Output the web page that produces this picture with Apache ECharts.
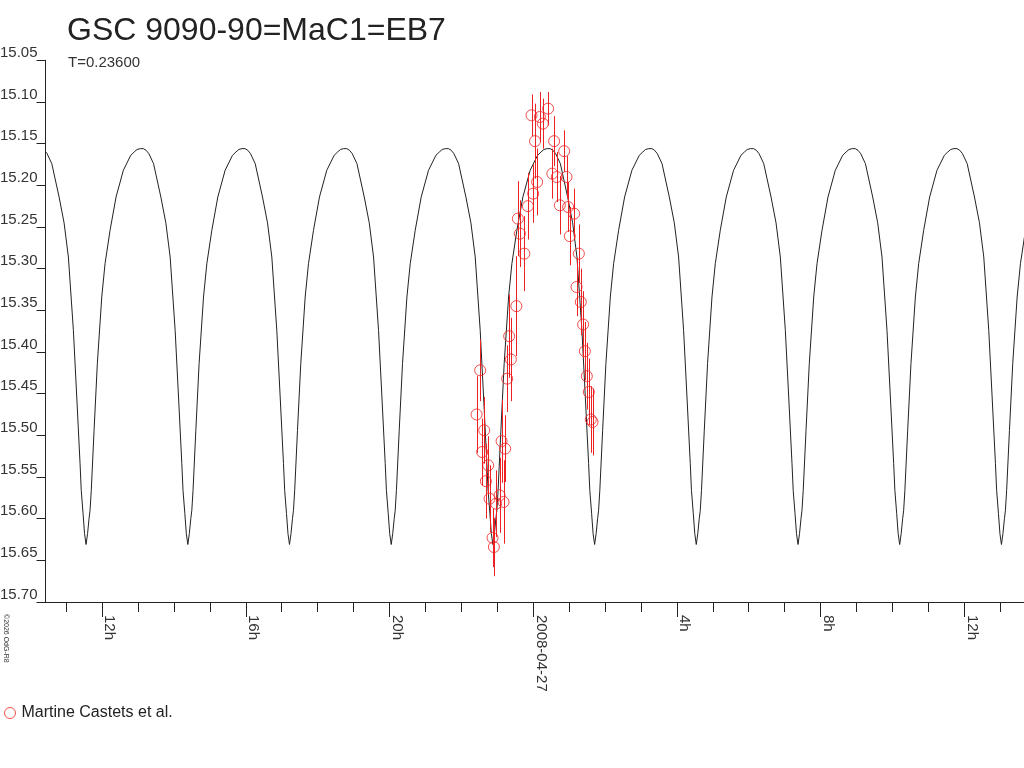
<!DOCTYPE html>
<html>
<head>
<meta charset="utf-8">
<title>GSC 9090-90=MaC1=EB7</title>
<script src="https://cdn.jsdelivr.net/npm/echarts@6/dist/echarts.min.js"></script>
<style>
    html, body { margin: 0; padding: 0; background: #fff; }
    #chart { width: 1024px; height: 768px; }
</style>
</head>
<body>
<div id="chart"></div>
<script>
// ===== data (time = hours from 2008-04-27 00:00) =====
var seriesName = 'Martine Castets et al.';

var obsTime = [-1.575, -1.475, -1.419, -1.363, -1.316, -1.252, -1.213, -1.130, -1.093, -1.030,
               -0.935, -0.879, -0.824, -0.779, -0.723, -0.668, -0.620, -0.467, -0.426, -0.370,
               -0.245, -0.147, -0.045, 0.000, 0.053, 0.111, 0.186, 0.270, 0.417, 0.534,
               0.584, 0.659, 0.743, 0.863, 0.929, 0.974, 1.021, 1.141, 1.208, 1.272,
               1.327, 1.391, 1.439, 1.494, 1.550, 1.605, 1.653];
var obsMag  = [15.475, 15.422, 15.520, 15.494, 15.555, 15.536, 15.576, 15.623, 15.634, 15.582,
               15.572, 15.507, 15.580, 15.516, 15.432, 15.381, 15.409, 15.345, 15.240, 15.258,
               15.282, 15.225, 15.116, 15.210, 15.147, 15.196, 15.118, 15.126, 15.108, 15.186,
               15.147, 15.190, 15.224, 15.159, 15.190, 15.226, 15.261, 15.234, 15.322, 15.282,
               15.340, 15.367, 15.399, 15.429, 15.448, 15.481, 15.484];
var obsErr  = [0.046, 0.037, 0.040, 0.040, 0.045, 0.035, 0.040, 0.035, 0.035, 0.040,
               0.045, 0.050, 0.050, 0.040, 0.040, 0.050, 0.050, 0.060, 0.045, 0.040,
               0.045, 0.040, 0.025, 0.035, 0.045, 0.040, 0.030, 0.030, 0.020, 0.030,
               0.030, 0.030, 0.035, 0.025, 0.025, 0.030, 0.035, 0.030, 0.035, 0.035,
               0.040, 0.040, 0.035, 0.040, 0.040, 0.040, 0.040];

// model curve: times of minima, plus the arch shape
var minTimes   = [-12.446, -9.613, -6.783, -3.951, -1.121, 1.711, 4.541, 7.373, 10.203, 13.036];
var fallOffset = [0, 0.042, 0.083, 0.134, 0.167, 0.259, 0.353, 0.492, 0.612, 0.751, 0.954, 1.085, 1.160, 1.233];
var fallMag    = [15.631, 15.618, 15.594, 15.566, 15.534, 15.454, 15.374, 15.286, 15.245, 15.214, 15.174, 15.162, 15.158, 15.156];
var riseOffset = [0, 0.042, 0.083, 0.111, 0.145, 0.223, 0.314, 0.437, 0.529, 0.668, 0.835, 1.038, 1.244, 1.340, 1.419, 1.510, 1.594];
var riseMag    = [15.631, 15.618, 15.600, 15.590, 15.566, 15.494, 15.414, 15.334, 15.294, 15.254, 15.214, 15.182, 15.164, 15.160, 15.157, 15.156, 15.156];

// axis ticks
var majorTicks  = [-12, -8, -4, 0, 4, 8, 12];
var majorLabels = ['12h', '16h', '20h', '2008-04-27', '4h', '8h', '12h'];
var minorTicks  = [-13, -12, -11, -10, -9, -8, -7, -6, -5, -4, -3, -2, -1, 0,
                   1, 2, 3, 4, 5, 6, 7, 8, 9, 10, 11, 12, 13];

var RED = '#ee2222';
var INK = '#222';
var FONT = '"Liberation Sans", Arial, sans-serif';

// build series data
var points = [];
for (var i = 0; i < obsTime.length; i++) {
    points.push([obsTime[i], obsMag[i], obsErr[i]]);
}

var modelCurve = [];
for (var k = 0; k < minTimes.length; k++) {
    var t0 = minTimes[k];
    for (var j = fallOffset.length - 1; j > 0; j--) {
        modelCurve.push([t0 - fallOffset[j], fallMag[j]]);
    }
    modelCurve.push([t0, fallMag[0]]);
    for (var j = 1; j < riseOffset.length; j++) {
        modelCurve.push([t0 + riseOffset[j], riseMag[j]]);
    }
}

var myChart = echarts.init(document.getElementById('chart'), null, { renderer: 'canvas' });

function xAxisDef(ticks, tickLen, withLabels) {
    return {
        type: 'value',
        min: -13.575,
        max: 13.65,
        position: 'bottom',
        splitLine: { show: false },
        axisLine: { show: true, onZero: false, lineStyle: { color: INK, width: 1 } },
        axisTick: { show: true, length: tickLen, customValues: ticks, lineStyle: { color: INK } },
        axisLabel: {
            show: withLabels,
            customValues: majorTicks,
            rotate: -90,
            margin: 13,
            verticalAlign: 'bottom',
            fontFamily: FONT,
            fontSize: 15,
            color: '#333',
            formatter: function (v) {
                var idx = majorTicks.indexOf(Math.round(v));
                return idx >= 0 ? majorLabels[idx] : '';
            }
        }
    };
}

var option = {
    animation: false,
    backgroundColor: '#fff',
    title: [
        {
            text: 'GSC 9090-90=MaC1=EB7',
            left: 62, top: 10,
            textStyle: { fontFamily: FONT, fontSize: 32, fontWeight: 'normal', color: INK }
        },
        {
            text: 'T=0.23600',
            left: 63, top: 50,
            textStyle: { fontFamily: FONT, fontSize: 15, fontWeight: 'normal', color: '#333' }
        }
    ],
    legend: {
        data: [seriesName],
        left: 4, top: 705,
        padding: 0,
        icon: 'circle',
        itemWidth: 11, itemHeight: 11, itemGap: 5,
        itemStyle: { color: 'transparent', borderColor: RED, borderWidth: 1 },
        textStyle: { fontFamily: FONT, fontSize: 16, color: INK, padding: [0, 0, 0, 1] }
    },
    grid: { left: 45.5, right: 0.5, top: 60.3, bottom: 166, outerBoundsMode: 'none' },
    xAxis: [
        xAxisDef(minorTicks, 10, false),
        xAxisDef(majorTicks, 15, true)
    ],
    yAxis: {
        type: 'value',
        inverse: true,
        min: 15.05,
        max: 15.70,
        interval: 0.05,
        splitLine: { show: false },
        axisLine: { show: true, onZero: false, lineStyle: { color: INK, width: 1 } },
        axisTick: { show: true, length: 9, lineStyle: { color: INK } },
        axisLabel: {
            margin: 8,
            verticalAlign: 'bottom',
            fontFamily: FONT,
            fontSize: 15,
            color: '#333',
            formatter: function (v) { return v.toFixed(2); }
        }
    },
    series: [
        {
            // model light curve
            type: 'line',
            data: modelCurve,
            showSymbol: false,
            silent: true,
            lineStyle: { color: INK, width: 1 },
            z: 2
        },
        {
            // error bars
            type: 'custom',
            data: points,
            encode: { x: 0, y: 1 },
            silent: true,
            z: 3,
            renderItem: function (params, api) {
                var x = api.value(0), y = api.value(1), e = api.value(2);
                var p1 = api.coord([x, y - e]);
                var p2 = api.coord([x, y + e]);
                var px = Math.round(p1[0]) + 0.5;
                return {
                    type: 'line',
                    shape: { x1: px, y1: p1[1], x2: px, y2: p2[1] },
                    style: { stroke: RED, lineWidth: 1 }
                };
            }
        },
        {
            name: seriesName,
            type: 'scatter',
            data: points,
            symbol: 'circle',
            symbolSize: 11,
            itemStyle: { color: 'transparent', borderColor: RED, borderWidth: 1 },
            z: 4
        }
    ],
    graphic: [
        {
            type: 'text',
            x: 9, y: 614,
            rotation: -Math.PI / 2,
            style: { text: '\u00a92026 OdG-R8', font: '7px "Liberation Sans", Arial, sans-serif', fill: '#333' }
        }
    ]
};

myChart.setOption(option);
</script>
</body>
</html>
